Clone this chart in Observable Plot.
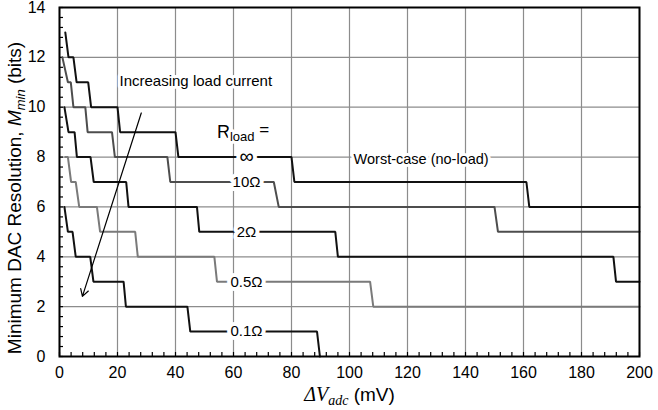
<!DOCTYPE html>
<html><head><meta charset="utf-8">
<script src="https://cdn.jsdelivr.net/npm/d3@7"></script>
<script src="https://cdn.jsdelivr.net/npm/@observablehq/plot@0.6"></script>
<style>html,body{margin:0;padding:0;background:#fff;} svg{display:block;}</style>
</head><body><div id="chart"></div>
<script>
// ---- data ----
const seriesNames = ["∞", "10Ω", "2Ω", "0.5Ω", "0.1Ω"];

const xInf = [2, 3.1, 4.8, 5.9, 9.9, 10.9, 20, 20.9, 40, 41, 80, 81, 161, 162, 200];
const yInf = [13, 12, 12, 11, 11, 10, 10, 9, 9, 8, 8, 7, 7, 6, 6];

const x10 = [1, 2.9, 3.9, 4.8, 8.9, 9.7, 18.1, 19.1, 37.2, 38.2, 73.9, 75.6, 150, 151.2, 200];
const y10 = [12, 11, 11, 10, 10, 9, 9, 8, 8, 7, 7, 6, 6, 5, 5];

const x2 = [1.7, 3.1, 5.2, 6, 10.7, 11.8, 23, 23.8, 47.4, 48.2, 95.1, 96, 191, 191.9, 200];
const y2 = [10, 9, 9, 8, 8, 7, 7, 6, 6, 5, 5, 4, 4, 3, 3];

const x05 = [2, 2.9, 4.0, 5.6, 6.8, 12.9, 14, 26.1, 27, 53.4, 54.3, 107.1, 108.2, 200];
const y05 = [8, 8, 7, 7, 6, 6, 5, 5, 4, 4, 3, 3, 2, 2];

const x01 = [1.7, 2.9, 4.5, 5.6, 10.6, 11.7, 22.1, 22.9, 44.1, 45.1, 88.8, 89.8];
const y01 = [6, 5, 5, 4, 4, 3, 3, 2, 2, 1, 1, 0];

// curve labels (x position in mV, y level in bits)
const curveLabelX = 64.5;
const curveLabelY = [8, 7, 5, 3, 1];

// annotations
const headerText = "Rload =";
const headerPos = [63.3, 9];
const worstText = "Worst-case (no-load)";
const worstPos = [124.7, 8];
const increasingText = "Increasing load current";
const increasingPos = [47, 11.04];
const arrowFrom = [28.2, 9.77];
const arrowTo = [7.9, 2.41];

// axes
const xMajor = [0, 20, 40, 60, 80, 100, 120, 140, 160, 180, 200];
const yMajor = [0, 2, 4, 6, 8, 10, 12, 14];
const xMinor = d3.range(0, 201, 4);
const yMinor = d3.range(0, 14.01, 0.4);
const xTitle = "ΔVadc (mV)";
const yTitle = "Minimum DAC Resolution, Mmin (bits)";

// ---- build tables ----
const seriesX = [xInf, x10, x2, x05, x01];
const seriesY = [yInf, y10, y2, y05, y01];
const rows = seriesNames.flatMap((s, i) => seriesX[i].map((x, j) => ({series: s, x, y: seriesY[i][j]})));
const labelRows = seriesNames.map((s, i) => ({text: s, x: curveLabelX, y: curveLabelY[i]}));
const symbolRows = labelRows.filter(d => d.text === "∞");
const ohmRows = labelRows.filter(d => d.text !== "∞");
const arrowRows = [{x1: arrowFrom[0], y1: arrowFrom[1], x2: arrowTo[0], y2: arrowTo[1]}];

const sans = "'Liberation Sans', Arial, Helvetica, sans-serif";
const serif = "'Liberation Serif', 'Times New Roman', serif";
const gridStyle = {stroke: "#8c8c8c", strokeOpacity: 1, strokeWidth: 1.2};

const chart = Plot.plot({
  width: 658, height: 410,
  marginLeft: 59, marginRight: 19, marginTop: 7, marginBottom: 54,
  style: {fontFamily: sans, background: "white", color: "black"},
  x: {domain: [0, 200], label: null},
  y: {domain: [0, 14], label: null},
  color: {domain: seriesNames, range: ["#111111", "#4d4d4d", "#111111", "#7a7a7a", "#111111"]},
  marks: [
    Plot.gridX(xMajor, gridStyle),
    Plot.gridY(yMajor, gridStyle),
    Plot.axisX(xMinor, {tickSize: -4, tickFormat: () => "", label: null, strokeWidth: 1.2}),
    Plot.axisY(yMinor, {tickSize: -4, tickFormat: () => "", label: null, strokeWidth: 1.2}),
    Plot.line(rows, {x: "x", y: "y", z: "series", stroke: "series", strokeWidth: 2, strokeLinejoin: "miter"}),
    Plot.arrow(arrowRows, {x1: "x1", y1: "y1", x2: "x2", y2: "y2", stroke: "black", strokeWidth: 1.2, headLength: 10}),
    Plot.text([increasingText], {x: () => increasingPos[0], y: () => increasingPos[1], text: d => d, fontSize: 15, fill: "black", stroke: "white", strokeWidth: 6}),
    Plot.text([worstText], {x: () => worstPos[0], y: () => worstPos[1], text: d => d, dy: 2, fontSize: 14.5, fill: "black", stroke: "white", strokeWidth: 6}),
    Plot.text([headerText], {x: () => headerPos[0], y: () => headerPos[1], text: d => d, fontSize: 18, fill: "black", stroke: "white", strokeWidth: 6}),
    Plot.text(ohmRows, {x: "x", y: "y", text: "text", fontSize: 15, fill: "black", stroke: "white", strokeWidth: 8}),
    Plot.text(symbolRows, {x: "x", y: "y", text: "text", fontSize: 20, fill: "black", stroke: "white", strokeWidth: 8}),
    Plot.frame({stroke: "black", strokeWidth: 2}),
    Plot.axisX(xMajor, {tickSize: 0, tickPadding: 10, fontSize: 16, label: null}),
    Plot.axisY(yMajor, {tickSize: 0, tickPadding: 14, fontSize: 16, label: null}),
    Plot.text([xTitle], {frameAnchor: "bottom", textAnchor: "middle", text: d => d, dy: 44, fontSize: 19}),
    Plot.text([yTitle], {frameAnchor: "left", textAnchor: "middle", lineAnchor: "middle", text: d => d, rotate: -90, dx: -45, dy: 16, fontSize: 19})
  ]
});

function richen(svg, plain, build) {
  svg.querySelectorAll("text").forEach(t => {
    if (t.textContent === plain && t.children.length === 0) {
      t.textContent = "";
      build(d3.select(t));
    }
  });
}
richen(chart, headerText, s => {
  s.append("tspan").text("R");
  s.append("tspan").attr("font-size", 13).attr("dy", 3).text("load");
  s.append("tspan").attr("font-size", 17).attr("dy", -6).text(" =");
});
richen(chart, xTitle, s => {
  s.append("tspan").attr("font-family", serif).attr("font-style", "italic").attr("font-size", 20).text("ΔV");
  s.append("tspan").attr("font-family", serif).attr("font-style", "italic").attr("font-size", 14).attr("dy", 4).text("adc");
  s.append("tspan").attr("dy", -4).text(" (mV)");
});
richen(chart, yTitle, s => {
  s.append("tspan").text("Minimum DAC Resolution, ");
  s.append("tspan").attr("font-style", "italic").text("M");
  s.append("tspan").attr("font-style", "italic").attr("font-size", 13).attr("dy", 4).text("min");
  s.append("tspan").attr("dy", -4).text(" (bits)");
});

document.getElementById("chart").appendChild(chart);
</script>
</body></html>
